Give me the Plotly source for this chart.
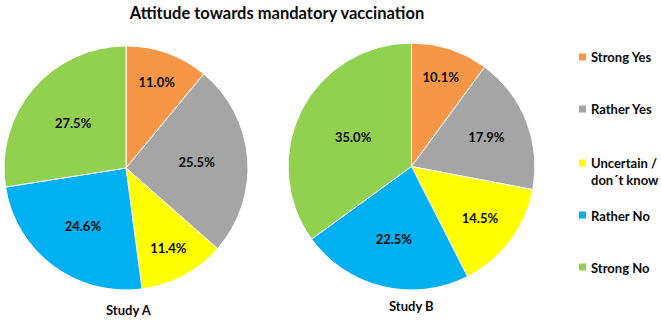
import plotly.graph_objects as go

categories = ["Strong Yes", "Rather Yes", "Uncertain /<br>don´t know", "Rather No", "Strong No"]
study_a = [11.0, 25.5, 11.4, 24.6, 27.5]
study_b = [10.1, 17.9, 14.5, 22.5, 35.0]
studies = ["Study A", "Study B"]
colors = ["#F79646", "#A5A5A5", "#FFFF00", "#00B0F0", "#92D050"]

W, H = 661, 322
font_family = "Lato, Open Sans, Arial"

def fx(x):
    return x / W

def fy(y):
    return 1 - y / H

fig = go.Figure()

doms = [dict(x=[fx(4), fx(248)], y=[fy(291), fy(45)]),
        dict(x=[fx(288), fx(535)], y=[fy(290), fy(43)])]
for vals, dom, name in zip([study_a, study_b], doms, studies):
    fig.add_trace(go.Pie(
        labels=categories, values=vals, sort=False, direction="clockwise", rotation=0,
        marker=dict(colors=colors, line=dict(width=1, color="white")),
        texttemplate="%{value:.1f}%", textposition="inside",
        insidetextorientation="horizontal",
        textfont=dict(family=font_family, size=13, color="#0a0a0a", weight="bold"),
        domain=dom, showlegend=False, name=name, hoverinfo="label+percent",
    ))

# study labels
for name, xc, yc in zip(studies, [129, 411], [310, 306]):
    fig.add_annotation(x=fx(xc), y=fy(yc), xref="paper", yref="paper", text="<b>" + name + "</b>",
                       showarrow=False, xanchor="center", yanchor="middle",
                       font=dict(family=font_family, size=13, color="#0a0a0a"))

# legend
leg_y = [57, 109, 163, 215, 267]
for cat, col, yc in zip(categories, colors, leg_y):
    fig.add_shape(type="rect", xref="paper", yref="paper",
                  x0=fx(579), x1=fx(586), y0=fy(yc + 3.5), y1=fy(yc - 3.5),
                  fillcolor=col, line=dict(width=0))
    fig.add_annotation(x=fx(589), y=fy(yc - 9.5), xref="paper", yref="paper", text="<b>" + cat + "</b>",
                       showarrow=False, xanchor="left", yanchor="top", align="left",
                       font=dict(family=font_family, size=13, color="#0a0a0a"))

fig.update_layout(
    width=W, height=H, margin=dict(l=0, r=0, t=0, b=0),
    paper_bgcolor="white", plot_bgcolor="white",
    title=dict(text="<b>Attitude towards mandatory vaccination</b>", x=fx(277), xanchor="center",
               y=fy(13), yanchor="middle", font=dict(family=font_family, size=16.5, color="#0a0a0a")),
)

fig.write_html("out.html", config={"displayModeBar": False},
               post_script="document.body.style.margin='0';")
